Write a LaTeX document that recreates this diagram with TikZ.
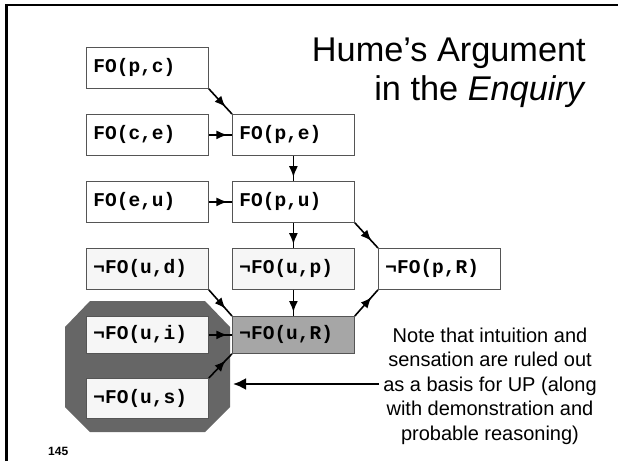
\documentclass[tikz,border=0pt]{standalone}
\usepackage{fontspec}
\setmainfont{Liberation Sans}
\setmonofont{Liberation Mono}
\usetikzlibrary{arrows.meta,decorations.markings}
\definecolor{boxline}{HTML}{555555}
\definecolor{octfill}{HTML}{666666}
\definecolor{midgray}{HTML}{A6A6A6}
\definecolor{paleg}{HTML}{F6F6F6}
\begin{document}
\begin{tikzpicture}[x=1pt,y=-1pt,
  fobox/.style={draw=boxline, line width=0.8pt, fill=white, rectangle, anchor=north west,
    minimum height=41pt, text width=108pt, inner xsep=7pt, inner ysep=0pt, align=left,
    font=\ttfamily\bfseries\fontsize{19.5}{20}\selectfont},
  conn/.style={line width=1.6pt, postaction={decorate},
    decoration={markings, mark=at position #1 with {\arrow{Latex[length=11pt,width=9pt]}}}},
]
\useasboundingbox (0,0) rectangle (618,461);
% frame
\draw[line width=2.5pt] (6.5,461) -- (6.5,5) -- (618,5);
% title
\node[anchor=base east, inner sep=0pt, font=\fontsize{34.3}{39}\selectfont] (t1) at (586,61) {Hume’s Argument};
\node[anchor=base east, inner sep=0pt, font=\fontsize{34.3}{39}\selectfont] (t2) at (586,100) {in the \textit{Enquiry}};
% octagon background
\fill[octfill] (90,301) -- (205,301) -- (230,327) -- (230,407) -- (205,432) -- (90,432) -- (65,407) -- (65,327) -- cycle;
% boxes
\node[fobox] (pc) at (86,47) {FO(p,c)};
\node[fobox] (ce) at (86,114) {FO(c,e)};
\node[fobox] (pe) at (232,114) {FO(p,e)};
\node[fobox] (eu) at (86,181) {FO(e,u)};
\node[fobox] (pu) at (232,181) {FO(p,u)};
\node[fobox, fill=paleg] (ud) at (86,248) {¬FO(u,d)};
\node[fobox, fill=paleg] (up) at (232,248) {¬FO(u,p)};
\node[fobox] (pR) at (378,248) {¬FO(p,R)};
\node[fobox, fill=paleg, minimum height=37pt] (ui) at (86,316) {¬FO(u,i)};
\node[fobox, fill=midgray, minimum height=37pt] (uR) at (232,316) {¬FO(u,R)};
\node[fobox, fill=paleg, minimum height=40pt] (us) at (86,378) {¬FO(u,s)};
% connectors
\draw[conn=0.72] (pc.south east) -- (pe.north west);
\draw[conn=0.8] (ce.east) -- (pe.west);
\draw[conn=0.85] (pe.south) -- (pu.north);
\draw[conn=0.8] (eu.east) -- (pu.west);
\draw[conn=0.85] (pu.south) -- (up.north);
\draw[conn=0.72] (pu.south east) -- (pR.north west);
\draw[conn=0.85] (up.south) -- (uR.north);
\draw[conn=0.72] (ud.south east) -- (uR.north west);
\draw[conn=0.8] (ui.east) -- (uR.west);
\draw[conn=0.72] (us.north east) -- (uR.south west);
\draw[conn=0.72] (uR.north east) -- (pR.south west);
% note
\node[align=center, inner sep=0pt, font=\fontsize{20}{24.5}\selectfont] (note) at (490,386)
  {Note that intuition and\\sensation are ruled out\\as a basis for UP (along\\with demonstration and\\probable reasoning)};
\coordinate (noteL) at (379,384);
\coordinate (noteT) at (233,384);
\draw[line width=2.4pt, -{Latex[length=13pt,width=12pt]}] (noteL) -- (noteT);
% page number
\node[anchor=base west, inner sep=0pt, font=\bfseries\fontsize{12}{14}\selectfont] (num) at (48,455) {145};
\end{tikzpicture}
\end{document}
